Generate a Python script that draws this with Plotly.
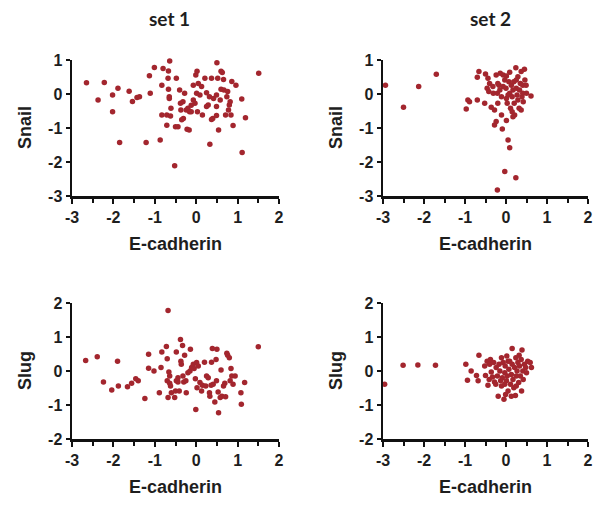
import plotly.graph_objects as go

# set 1: E-cadherin vs Snail
s1_snail_x = [-2.65,-2.37,-2.22,-2.02,-2.02,-1.89,-1.85,-1.62,-1.54,-1.43,-1.37,-1.21,-1.13,-1.11,-1.01,-0.87,-0.83,-0.80,-0.83,-0.71,
              -0.71,-0.67,-0.64,-0.68,-0.67,-0.65,-0.65,-0.61,-0.62,-0.52,-0.50,-0.44,-0.48,-0.40,-0.38,-0.37,-0.32,-0.28,-0.35,-0.31,
              -0.24,-0.20,-0.16,-0.22,-0.17,-0.12,-0.07,-0.07,-0.03,0.01,-0.01,0.03,0.02,0.05,0.09,0.13,0.15,0.21,0.25,0.29,
              0.32,0.33,0.37,0.40,0.37,0.42,0.49,0.50,0.52,0.54,0.58,0.60,0.63,0.66,0.67,0.71,0.74,0.76,0.78,0.80,
              0.82,0.84,0.86,0.89,0.96,1.10,1.11,1.19,1.51,0.49,0.49,0.60,-0.12,0.25]
s1_snail_y = [0.33,-0.18,0.34,-0.03,-0.52,0.17,-1.43,0.08,-0.22,-0.10,-0.08,-1.43,0.54,0.02,0.78,-1.35,0.26,0.75,-0.62,-0.62,
              -0.92,0.68,0.97,0.46,0.14,-0.08,-0.13,-0.42,-0.65,-2.11,-0.96,-0.96,0.46,0.12,-0.27,-0.47,-0.23,0.02,-0.76,-0.72,
              -0.47,-0.42,-0.52,-1.04,-1.06,-0.52,-0.18,0.26,-0.27,0.02,0.56,-0.52,0.67,0.31,-0.03,0.22,-0.62,0.46,0.04,-0.32,
              -0.08,-1.48,-0.75,-0.72,0.46,-0.13,-0.63,0.92,0.46,-1.06,-0.18,0.67,0.63,0.43,0.12,-0.62,-0.08,0.07,-0.47,-0.32,
              -0.23,-0.62,0.37,-0.93,0.26,-0.15,-1.72,-0.70,0.61,-0.03,-0.37,0.14,-0.33,-0.37]

# set 2: E-cadherin vs Snail
s2_snail_x = [-2.94,-2.50,-2.13,-1.70,-0.97,-0.93,-0.89,-0.70,-0.70,-0.66,-0.52,-0.50,-0.46,-0.44,-0.42,-0.40,-0.36,-0.32,-0.28,-0.28,
              -0.24,-0.24,-0.21,-0.20,-0.17,-0.15,-0.14,-0.11,-0.09,-0.07,-0.07,-0.03,0.00,0.01,0.01,0.01,0.03,0.05,0.07,0.09,
              0.09,0.11,0.13,0.15,0.15,0.17,0.19,0.20,0.21,0.24,0.24,0.25,0.27,0.29,0.29,0.32,0.33,0.35,0.37,0.37,
              0.39,0.41,0.42,0.45,0.46,0.49,0.50,0.61,-0.21,-0.11,-0.03,0.09,-0.20,-0.31,0.25,0.05,0.17,0.41]
s2_snail_y = [0.26,-0.39,0.22,0.58,-0.44,-0.18,-0.23,-0.18,0.49,0.66,-0.27,0.59,0.17,0.46,0.07,0.31,-0.39,0.22,-0.47,-0.91,
              -0.81,0.56,0.02,-0.27,0.26,0.12,0.61,-0.08,-1.03,0.56,0.22,-2.28,0.17,-0.78,-0.13,0.53,-0.27,-1.35,0.36,-1.58,
              0.02,-0.42,0.26,-0.08,-0.52,0.12,0.36,-0.27,-0.62,0.77,-2.46,0.17,-0.03,0.51,-0.18,-0.42,0.12,0.31,-0.47,0.66,
              -0.08,0.26,-0.23,0.73,0.41,0.26,0.02,-0.06,-2.82,-0.62,0.41,0.64,0.31,0.02,0.41,-0.03,-0.67,0.02]

# set 1: E-cadherin vs Slug
s1_slug_x = [-2.67,-2.39,-2.24,-2.04,-1.90,-1.88,-1.66,-1.56,-1.46,-1.40,-1.24,-1.15,-1.15,-1.02,-0.89,-0.85,-0.83,-0.72,-0.70,-0.70,
             -0.68,-0.68,-0.66,-0.64,-0.64,-0.62,-0.60,-0.52,-0.50,-0.48,-0.48,-0.44,-0.41,-0.38,-0.37,-0.36,-0.33,-0.32,-0.30,-0.28,
             -0.25,-0.24,-0.20,-0.15,-0.14,-0.11,-0.07,-0.05,-0.02,-0.01,0.01,0.02,0.05,0.09,0.13,0.15,0.20,0.23,0.25,0.29,
             0.32,0.33,0.36,0.37,0.39,0.41,0.45,0.48,0.49,0.50,0.53,0.54,0.58,0.60,0.62,0.66,0.69,0.71,0.74,0.76,
             0.80,0.82,0.84,0.86,0.89,0.94,1.08,1.09,1.17,1.50,-0.44]
s1_slug_y = [0.31,0.42,-0.32,-0.56,0.29,-0.44,-0.46,-0.36,-0.23,-0.29,-0.81,0.49,0.08,0.00,-0.64,0.10,0.56,0.72,0.36,-0.29,
             1.78,-0.78,-0.03,-0.15,-0.36,-0.44,-0.64,-0.78,-0.59,0.56,-0.29,-0.32,-0.59,0.93,0.29,0.20,0.75,-0.15,-0.32,0.46,
             -0.29,-0.64,-0.05,0.00,0.64,0.10,0.20,0.07,-0.23,-1.13,0.25,-0.49,0.15,-0.34,-0.59,-0.42,0.26,-0.44,-0.15,-0.20,
             -0.64,-0.74,-0.42,0.26,0.66,-0.39,-0.91,0.34,-0.29,0.64,-0.62,-1.23,-0.78,0.03,-0.74,-0.44,-0.36,-0.76,0.52,0.46,
             0.39,-0.29,0.07,-0.15,-0.39,-0.15,-0.64,-0.98,-0.34,0.71,-0.20]

# set 2: E-cadherin vs Slug
s2_slug_x = [-2.96,-2.51,-2.15,-1.72,-0.98,-0.94,-0.85,-0.72,-0.68,-0.66,-0.52,-0.50,-0.46,-0.44,-0.41,-0.40,-0.38,-0.36,-0.33,-0.30,
             -0.28,-0.25,-0.24,-0.21,-0.19,-0.17,-0.15,-0.13,-0.11,-0.09,-0.07,-0.05,-0.03,-0.02,-0.01,0.01,0.02,0.03,0.05,0.07,
             0.09,0.11,0.13,0.15,0.15,0.17,0.19,0.21,0.23,0.24,0.25,0.27,0.29,0.31,0.32,0.33,0.35,0.37,0.38,0.39,
             0.41,0.42,0.45,0.48,0.50,0.53,0.59,0.62,0.05,-0.11,0.25,0.13,-0.03]
s2_slug_y = [-0.39,0.17,0.18,0.17,0.20,-0.27,0.00,-0.13,-0.29,0.46,0.15,-0.13,0.29,-0.42,-0.25,0.20,0.34,-0.03,-0.18,0.25,
             -0.32,-0.39,0.10,-0.15,-0.74,0.20,0.00,-0.29,-0.44,-0.20,0.25,-0.83,-0.05,0.15,-0.69,-0.29,0.44,-0.15,-0.59,0.05,
             0.29,-0.39,-0.10,0.20,0.66,-0.25,-0.49,0.10,-0.72,0.39,-0.15,0.00,0.25,-0.34,0.46,0.15,-0.15,0.34,-0.59,0.62,
             0.00,-0.25,0.20,0.10,-0.05,0.29,0.25,0.10,0.29,0.39,-0.44,-0.74,-0.39]

x_ticks = [-3, -2, -1, 0, 1, 2]
snail_ticks = [-3, -2, -1, 0, 1]
slug_ticks = [-2, -1, 0, 1, 2]
set_titles = ["set 1", "set 2"]
x_label = "E-cadherin"
y_labels = ["Snail", "Slug"]

W, H = 594, 506
MARKER = "#a3262e"
FONT = "Liberation Sans"
TXT = "#1e1e1e"

def px_x(a, b):
    return [a / W, b / W]

def px_y(top, bottom):
    return [1 - bottom / H, 1 - top / H]

xdoms = [px_x(72, 279), px_x(383, 588)]
ydoms = [px_y(60, 196), px_y(303, 439)]

fig = go.Figure()

panels = [
    (s1_snail_x, s1_snail_y, 0, 0, snail_ticks, [-3, 1]),
    (s2_snail_x, s2_snail_y, 1, 0, snail_ticks, [-3, 1]),
    (s1_slug_x, s1_slug_y, 0, 1, slug_ticks, [-2, 2]),
    (s2_slug_x, s2_slug_y, 1, 1, slug_ticks, [-2, 2]),
]

layout = {}
for i, (xs, ys, col, row, yt, yr) in enumerate(panels):
    n = i + 1
    xa = "x" if n == 1 else f"x{n}"
    ya = "y" if n == 1 else f"y{n}"
    fig.add_trace(go.Scatter(x=xs, y=ys, mode="markers", xaxis=xa, yaxis=ya,
                             marker=dict(color=MARKER, size=5.5, line=dict(width=0)),
                             cliponaxis=False, showlegend=False))
    axis_common = dict(showgrid=False, zeroline=False, showline=True, linecolor="#111",
                       linewidth=2.5, ticks="outside", tickwidth=2, tickcolor="#111", ticklen=5,
                       automargin=False,
                       tickfont=dict(family=FONT, size=16, color=TXT, weight="bold"))
    layout[f"xaxis{n if n > 1 else ''}"] = dict(
        axis_common, domain=xdoms[col], range=[-3, 2], anchor=ya,
        tickvals=x_ticks, ticktext=[str(v) for v in x_ticks],
        minor=dict(dtick=0.5, ticks="outside", ticklen=4, tickwidth=2, tickcolor="#111"))
    layout[f"yaxis{n if n > 1 else ''}"] = dict(
        axis_common, domain=ydoms[row], range=yr, anchor=xa, ticklen=4,
        tickvals=yt, ticktext=[str(v) for v in yt])

fig.update_layout(**layout)

ann = []
title_x = [170, 490]
for col, t in enumerate(set_titles):
    ann.append(dict(text=t, x=title_x[col] / W, y=1 - 18 / H, xref="paper", yref="paper",
                    xanchor="center", yanchor="middle", showarrow=False,
                    font=dict(family="Lato", size=19, color=TXT, weight="bold")))
for row, yl in enumerate(y_labels):
    for col in range(2):
        ann.append(dict(text=yl, x=(xdoms[col][0] * W - 47) / W, y=sum(ydoms[row]) / 2,
                        xref="paper", yref="paper", textangle=-90, showarrow=False,
                        xanchor="center", yanchor="middle",
                        font=dict(family=FONT, size=18, color=TXT, weight="bold")))
        ann.append(dict(text=x_label, x=sum(xdoms[col]) / 2,
                        y=ydoms[row][0] - 48 / H, xref="paper", yref="paper", showarrow=False,
                        xanchor="center", yanchor="middle",
                        font=dict(family=FONT, size=18, color=TXT, weight="bold")))

fig.update_layout(width=W, height=H, margin=dict(l=0, r=0, t=0, b=0, autoexpand=False),
                  paper_bgcolor="white", plot_bgcolor="white", annotations=ann,
                  hovermode=False)

fig.write_html("out.html", config={"displayModeBar": False, "staticPlot": True},
               post_script="document.body.style.margin='0';document.body.style.overflow='hidden';")
